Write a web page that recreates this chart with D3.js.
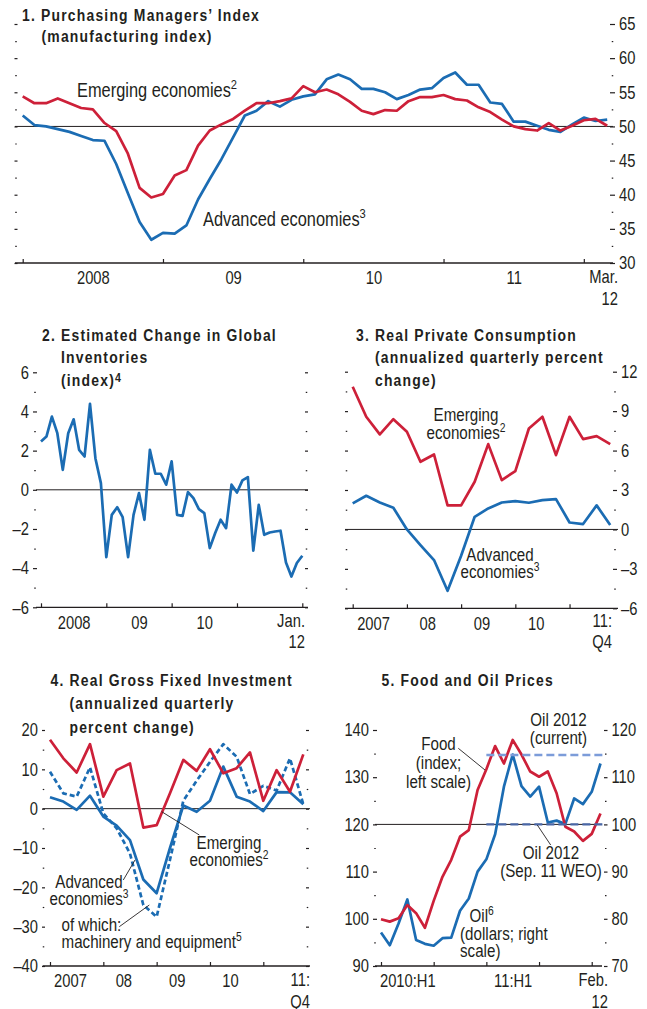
<!DOCTYPE html>
<html>
<head>
<meta charset="utf-8">
<script src="https://cdn.jsdelivr.net/npm/d3@7"></script>
<style>
  body { margin: 0; background: #fff; }
  svg text { font-family: "Liberation Sans", Arial, sans-serif; fill: #231f20;
    transform-box: fill-box; transform: scaleX(0.82); transform-origin: left center; }
  svg text[text-anchor="middle"], g[text-anchor="middle"] text { transform-origin: center center; }
  svg text[text-anchor="end"], g[text-anchor="end"] text { transform-origin: right center; }
  .title { font-weight: bold; font-size: 17px; letter-spacing: 1.45px; }
  .tick text { font-size: 18px; }
</style>
</head>
<body>
<svg id="chart" width="647" height="1009"></svg>
<script>
// 1. PMI, monthly Jan 2008 - Mar 2012
var pmiEmerging = [54.4,53.4,53.4,54.1,53.4,52.7,52.5,50.5,49.3,46.0,41.0,39.6,40.1,42.8,43.6,47.2,49.4,50.3,51.1,52.3,
  53.4,53.4,53.7,54.1,55.9,55.0,55.4,54.7,53.6,52.3,51.8,52.4,52.3,53.7,54.3,54.3,54.6,54.0,53.8,52.8,
  52.1,51.0,50.0,49.6,49.4,50.5,49.4,50.1,50.9,51.1,50.1];
var pmiAdvanced = [51.6,50.2,50.0,49.6,49.2,48.6,48.0,47.9,44.5,40.2,36.0,33.4,34.4,34.3,35.5,39.3,42.3,45.2,48.4,51.6,
  52.3,53.7,52.9,53.9,54.4,54.7,56.9,57.6,56.9,55.5,55.5,55.0,54.0,54.6,55.4,55.6,57.1,57.9,56.1,56.1,
  53.5,53.3,50.7,50.7,50.1,49.5,49.2,50.3,51.3,50.8,51.0];
var pmiTicks = [30,35,40,45,50,55,60,65];
var pmiYears = ["2008","09","10","11"];

// 2. Global inventories index, monthly Jan 2008 - Jan 2012
var invIndex = [2.47,2.72,3.74,2.89,1.02,2.89,3.6,2.04,1.7,4.39,1.6,0.34,-3.44,-1.28,-0.89,-1.4,-3.44,-1.28,-0.17,-1.53,
  2.04,0.82,0.82,0.26,1.45,-1.28,-1.33,-0.12,-0.43,-0.99,-1.19,-2.98,-2.21,-1.53,-1.96,0.26,-0.14,0.48,0.65,-3.11,
  -0.77,-2.3,-2.18,-2.13,-2.09,-3.71,-4.43,-3.74,-3.37];
var invTicks = [-6,-4,-2,0,2,4,6];
var invYears = ["2008","09","10"];

// 3. Real private consumption, quarterly 2007Q1 - 2011Q4
var consEmerging = [10.85,8.57,7.23,8.39,7.43,5.15,5.7,1.83,1.83,3.63,6.49,3.75,4.44,7.68,8.57,5.65,8.57,6.87,7.1,6.49];
var consAdvanced = [1.98,2.56,2.05,1.65,0.0,-1.19,-2.33,-4.67,-2.0,0.96,1.6,2.05,2.16,2.03,2.23,2.31,0.53,0.41,1.83,0.33];
var consTicks = [-6,-3,0,3,6,9,12];
var qYears = ["2007","08","09","10"];

// 4. Real gross fixed investment, quarterly 2007Q1 - 2011Q4
var gfiEmerging = [17.5,12.8,9.2,16.4,3.05,9.8,11.5,-4.8,-4.2,3.9,12.4,9.6,15.1,9.0,10.3,14.3,2.0,9.8,4.3,13.8];
var gfiAdvanced = [2.9,1.8,-0.3,3.3,-2.0,-4.3,-8.0,-18.0,-21.5,-10.0,0.8,-0.8,2.0,10.7,3.05,1.8,-0.6,4.2,4.15,1.1];
var gfiMachinery = [9.4,3.9,3.05,10.5,-1.2,-5.0,-11.4,-24.5,-27.5,-13.0,2.0,7.1,11.9,16.4,13.2,3.7,5.8,4.6,12.8,1.1];
var gfiTicks = [-40,-30,-20,-10,0,10,20];

// 5. Food and oil prices, monthly Jan 2010 - Feb 2012
var food = [99.9,99.4,100.1,102.9,101.2,98.1,103.8,108.9,112.5,117.4,118.8,127.3,131.7,136.6,132.9,137.9,134.8,131.2,
  130.1,131.2,126.6,119.5,118.5,116.5,118.0,122.3];
var oil = [77.1,74.4,79.0,84.1,75.5,74.7,74.3,75.9,76.0,81.7,84.3,90.0,92.6,97.9,108.0,114.8,108.1,105.9,
  108.0,100.4,100.8,100.1,105.5,104.3,106.9,112.9];
var oilCurrent = 114.7, oilWeo = 100;
var foodTicks = [90,100,110,120,130,140];
var oilTicks = [70,80,90,100,110,120];
var halfYears = ["2010:H1","11:H1"];

var red = "#cd2039", blue = "#1b6cb3", ink = "#231f20";
var svg = d3.select("#chart");

function fmt(d) { return d < 0 ? "\u2013" + Math.abs(d) : String(d); }
function mids(t) { return t.slice(1).map(function(v, i) { return (v + t[i]) / 2; }); }

function yAxis(side, y, xpos, major, labels, size) {
  var mk = side === "left" ? d3.axisLeft : d3.axisRight;
  var g = svg.append("g").attr("transform", "translate(" + xpos + ",0)").attr("color", ink)
    .call(mk(y).tickValues(major).tickSize(size).tickPadding(4).tickFormat(labels ? fmt : ""));
  g.select(".domain").remove();
  g.attr("font-size", null).attr("font-family", null);
  g.selectAll("line").attr("stroke-width", 1.2);
  var xm = side === "left" ? xpos - size / 2 + 0.75 : xpos + size / 2 - 0.75;
  var m = svg.append("g").attr("transform", "translate(" + xm + ",0)").attr("color", ink)
    .call(mk(y).tickValues(mids(major)).tickSize(1.5).tickFormat(""));
  m.select(".domain").remove();
  m.selectAll("line").attr("stroke-width", 1.2);
}

function xAxis(x, y0, x0, x1, ticks, labelPos, labels) {
  svg.append("line").attr("x1", x0).attr("x2", x1).attr("y1", y0).attr("y2", y0)
    .attr("stroke", ink).attr("stroke-width", 1.3);
  var t = svg.append("g").attr("transform", "translate(0," + y0 + ")").attr("color", ink)
    .call(d3.axisTop(x).tickValues(ticks).tickSize(4).tickFormat(""));
  t.select(".domain").remove();
  t.selectAll("line").attr("stroke-width", 1.2);
  var l = svg.append("g").attr("transform", "translate(0," + y0 + ")")
    .call(d3.axisBottom(x).tickValues(labelPos).tickSize(0).tickPadding(8.5)
      .tickFormat(function(d, i) { return labels[i]; }));
  l.select(".domain").remove();
  l.attr("font-size", null).attr("font-family", null);
}

function hline(x0, x1, yv) {
  svg.append("line").attr("x1", x0).attr("x2", x1).attr("y1", yv).attr("y2", yv)
    .attr("stroke", ink).attr("stroke-width", 1);
}

function series(x, y, data, color, dash) {
  var line = d3.line().x(function(d, i) { return x(i); }).y(function(d) { return y(d); });
  svg.append("path").datum(data).attr("d", line).attr("fill", "none")
    .attr("stroke", color).attr("stroke-width", 2.7).attr("stroke-linejoin", "round")
    .attr("stroke-dasharray", dash || null);
}

function note(x, y, lines, anchor, size, lh) {
  var t = svg.append("text").attr("font-size", size).attr("text-anchor", anchor || "start");
  lines.forEach(function(s, i) {
    var parts = s.split("^");
    t.append("tspan").attr("x", x).attr("y", y + i * lh).text(parts[0]);
    if (parts[1]) t.append("tspan").attr("dy", -size * 0.38).attr("font-size", size * 0.68).text(parts[1]);
  });
}

function title(x, y, lines, dx, lh) {
  lines.forEach(function(s, i) {
    var parts = s.split("^");
    var t = svg.append("text").attr("class", "title").attr("x", i ? x + dx : x).attr("y", y + i * lh).text(parts[0]);
    if (parts[1]) t.append("tspan").attr("dy", -4).attr("font-size", 13).text(parts[1]);
  });
}

function leader(x1, y1, x2, y2) {
  svg.append("line").attr("x1", x1).attr("y1", y1).attr("x2", x2).attr("y2", y2)
    .attr("stroke", ink).attr("stroke-width", 0.9);
}

function endLabel(x, y, lines) {
  note(x, y, lines, "end", 18, 21.5);
}

// ---------- Panel 1 ----------
(function() {
  var x = d3.scaleLinear().domain([0, pmiEmerging.length - 1]).range([22.7, 607.2]);
  var y = d3.scaleLinear().domain([30, 65]).range([263, 24]);
  title(22, 21, ["1. Purchasing Managers\u2019 Index", "(manufacturing index)"], 19.5, 21);
  yAxis("right", y, 14.5, pmiTicks, false, 3);
  yAxis("right", y, 610, pmiTicks, true, 5);
  hline(15, 613, y(50));
  series(x, y, pmiAdvanced, blue);
  series(x, y, pmiEmerging, red);
  xAxis(x, 263, 15, 613, [0, 12, 24, 36, 48], [6, 18, 30, 42], pmiYears);
  endLabel(618, 283.5, ["Mar.", "12"]);
  note(77, 97, ["Emerging economies^2"], "start", 20, 20);
  note(203, 226, ["Advanced economies^3"], "start", 20, 20);
})();

// ---------- Panel 2 ----------
(function() {
  var x = d3.scaleLinear().domain([0, invIndex.length - 1]).range([41, 302.3]);
  var y = d3.scaleLinear().domain([-6, 6]).range([607.3, 372.3]);
  title(42, 341, ["2. Estimated Change in Global", "Inventories", "(index)^4"], 19, 22.5);
  yAxis("left", y, 37, invTicks, true, 4);
  yAxis("right", y, 305, invTicks, false, 3);
  hline(36, 308, y(0));
  series(x, y, invIndex, blue);
  xAxis(x, 607.3, 36, 308, [0, 12, 24, 36, 48], [6, 18, 30], invYears);
  endLabel(305, 627, ["Jan.", "12"]);
})();

// ---------- Panel 3 ----------
(function() {
  var x = d3.scaleLinear().domain([0, consEmerging.length - 1]).range([352.7, 610.2]);
  var y = d3.scaleLinear().domain([-6, 12]).range([608.3, 371.7]);
  title(356, 341, ["3. Real Private Consumption", "(annualized quarterly percent", "change)"], 19, 22.5);
  yAxis("right", y, 345, consTicks, false, 3);
  yAxis("right", y, 613, consTicks, true, 4);
  hline(345, 618, y(0));
  series(x, y, consAdvanced, blue);
  series(x, y, consEmerging, red);
  xAxis(x, 608.3, 345, 618, [0, 4, 8, 12, 16], [1.5, 5.5, 9.5, 13.5], qYears);
  endLabel(612, 627, ["11:", "Q4"]);
  note(466, 421.5, ["Emerging", "economies^2"], "middle", 18.5, 17.5);
  note(500, 561.5, ["Advanced", "economies^3"], "middle", 18.5, 17);
})();

// ---------- Panel 4 ----------
(function() {
  var x = d3.scaleLinear().domain([0, gfiEmerging.length - 1]).range([50, 303.3]);
  var y = d3.scaleLinear().domain([-40, 20]).range([966, 730]);
  title(50.5, 686, ["4. Real Gross Fixed Investment", "(annualized quarterly", "percent change)"], 19, 23.5);
  yAxis("left", y, 45, gfiTicks, true, 3);
  yAxis("right", y, 306, gfiTicks, false, 3);
  hline(42.7, 310, y(0));
  series(x, y, gfiMachinery, blue, "5,3");
  series(x, y, gfiAdvanced, blue);
  series(x, y, gfiEmerging, red);
  xAxis(x, 966, 42.7, 310, [0, 4, 8, 12, 16], [1.5, 5.5, 9.5, 13.5], qYears);
  endLabel(310, 986.5, ["11:", "Q4"]);
  leader(161.7, 811.7, 199.3, 835);
  leader(123.3, 880, 135, 860);
  leader(119.3, 926.7, 149.3, 905);
  note(229, 849, ["Emerging", "economies^2"], "middle", 18.5, 17);
  note(89, 888, ["Advanced", "economies^3"], "middle", 18.5, 17);
  note(61.5, 931.5, ["of which:", "machinery and equipment^5"], "start", 18.5, 17);
})();

// ---------- Panel 5 ----------
(function() {
  var x = d3.scaleLinear().domain([0, food.length - 1]).range([381, 600.5]);
  var yL = d3.scaleLinear().domain([90, 140]).range([966, 730]);
  var yR = d3.scaleLinear().domain([70, 120]).range([966, 730]);
  title(381.5, 686, ["5. Food and Oil Prices"], 0, 22);
  yAxis("left", yL, 377, foodTicks, true, 4);
  yAxis("right", yR, 604, oilTicks, true, 3.5);
  hline(375, 602, yL(120));
  series(x, yR, oil, blue);
  series(x, yL, food, red);
  svg.append("line").attr("x1", x(12)).attr("x2", 603).attr("y1", yR(oilCurrent)).attr("y2", yR(oilCurrent))
    .attr("stroke", "#7c9cd9").attr("stroke-width", 2.4).attr("stroke-dasharray", "8,4");
  svg.append("line").attr("x1", x(12)).attr("x2", 603).attr("y1", yR(oilWeo)).attr("y2", yR(oilWeo))
    .attr("stroke", "#4a67a6").attr("stroke-width", 2.4).attr("stroke-dasharray", "8,4");
  xAxis(x, 966, 375, 602, [0, 6, 12, 18, 24], [3, 15], halfYears);
  endLabel(608, 986.5, ["Feb.", "12"]);
  leader(458.3, 748.3, 485, 770);
  leader(537.3, 825, 550.7, 845);
  note(558.5, 726.5, ["Oil 2012", "(current)"], "middle", 18.5, 18);
  note(438.5, 750, ["Food", "(index;", "left scale)"], "middle", 18.5, 19);
  note(551, 859, ["Oil  2012", "(Sep. 11 WEO)"], "middle", 18.5, 18.5);
  note(469.5, 922.5, ["Oil^6"], "start", 18.5, 18);
  note(460, 940, ["(dollars; right", "scale)"], "start", 18.5, 17.5);
})();
</script>
</body>
</html>
